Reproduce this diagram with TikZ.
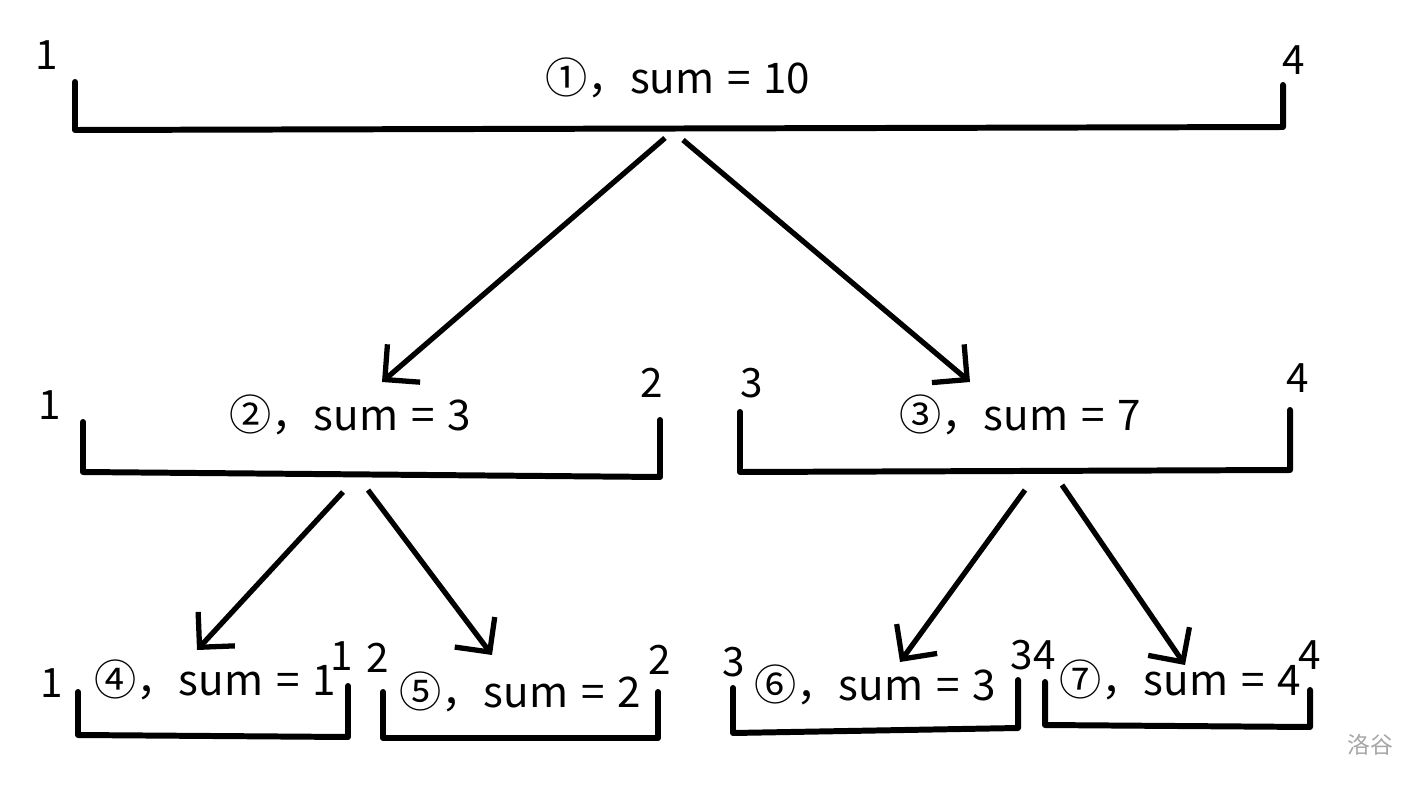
\documentclass[tikz,border=0pt]{standalone}
\usepackage{fontspec}
\setmainfont{Noto Sans CJK SC}
\usetikzlibrary{arrows.meta}
\newcommand{\segsum}[2]{#1，sum\hspace{.3em}=\hspace{.3em}#2}

\begin{document}
\begin{tikzpicture}[x=0.01cm, y=-0.01cm,
		seg/.style = {line width=1.7pt, line cap=round, line join=round},
		link/.style = {line width=1.5pt, -{Straight Barb[length=2.5mm,width=5mm]}},
		lab/.style = {font=\fontsize{12pt}{14pt}\selectfont, inner sep=0pt},
		bnd/.style = {font=\fontsize{11.5pt}{13pt}\selectfont, inner sep=0pt}]
			
			\useasboundingbox (0,0) rectangle (1412,806);
			
			% level 1
			\node[lab] (n1) at (678,78) {\segsum{①}{10}};
			\node[bnd] (l1) at (47,55) {1};
			\node[bnd] (r1) at (1294,60) {4};
			\draw[seg] (75,82) -- (75,130) -- (1283,127) -- (1283,85);
			
			% level 2
			\node[lab] (n2) at (350,415) {\segsum{②}{3}};
			\node[bnd] (l2) at (50,405) {1};
			\node[bnd] (r2) at (652,383) {2};
			\draw[seg] (83,422) -- (83,472) -- (660,477) -- (660,420);
			
			\node[lab] (n3) at (1020,415) {\segsum{③}{7}};
			\node[bnd] (l3) at (752,383) {3};
			\node[bnd] (r3) at (1298,378) {4};
			\draw[seg] (740,412) -- (740,472) -- (1290,470) -- (1290,410);
			
			% level 3
			\node[lab] (n4) at (215,680) {\segsum{④}{1}};
			\node[bnd] (l4) at (52,683) {1};
			\node[bnd] (r4) at (342,656) {1};
			\draw[seg] (78,692) -- (78,735) -- (348,737) -- (348,686);
			
			\node[lab] (n5) at (520,692) {\segsum{⑤}{2}};
			\node[bnd] (l5) at (378,658) {2};
			\node[bnd] (r5) at (660,660) {2};
			\draw[seg] (383,692) -- (383,738) -- (658,738) -- (658,692);
			
			\node[lab] (n6) at (875,685) {\segsum{⑥}{3}};
			\node[bnd] (l6) at (734,662) {3};
			\node[bnd] (r6) at (1022,655) {3};
			\draw[seg] (733,688) -- (733,733) -- (1018,728) -- (1018,680);
			
			\node[lab] (n7) at (1180,680) {\segsum{⑦}{4}};
			\node[bnd] (l7) at (1045,655) {4};
			\node[bnd] (r7) at (1310,655) {4};
			\draw[seg] (1045,682) -- (1045,725) -- (1310,727) -- (1310,690);
			
			% arrows
			\coordinate (a1) at (665,138);
			\coordinate (b1) at (683,140);
			\coordinate (a2) at (343,492);
			\coordinate (b2) at (368,490);
			\coordinate (a3) at (1025,490);
			\coordinate (b3) at (1062,485);
			\coordinate (t2) at (382,382);
			\coordinate (t3) at (970,382);
			\coordinate (t4) at (197,650);
			\coordinate (t5) at (492,655);
			\coordinate (t6) at (900,662);
			\coordinate (t7) at (1185,665);
			
			\draw[link] (a1) -- (t2);
			\draw[link] (b1) -- (t3);
			\draw[link] (a2) -- (t4);
			\draw[link] (b2) -- (t5);
			\draw[link] (a3) -- (t6);
			\draw[link] (b3) -- (t7);
			
			\node[font=\fontsize{6.5pt}{8pt}\selectfont, text=gray!70] (wm) at (1370,745) {洛谷};
			
\end{tikzpicture}
\end{document}
